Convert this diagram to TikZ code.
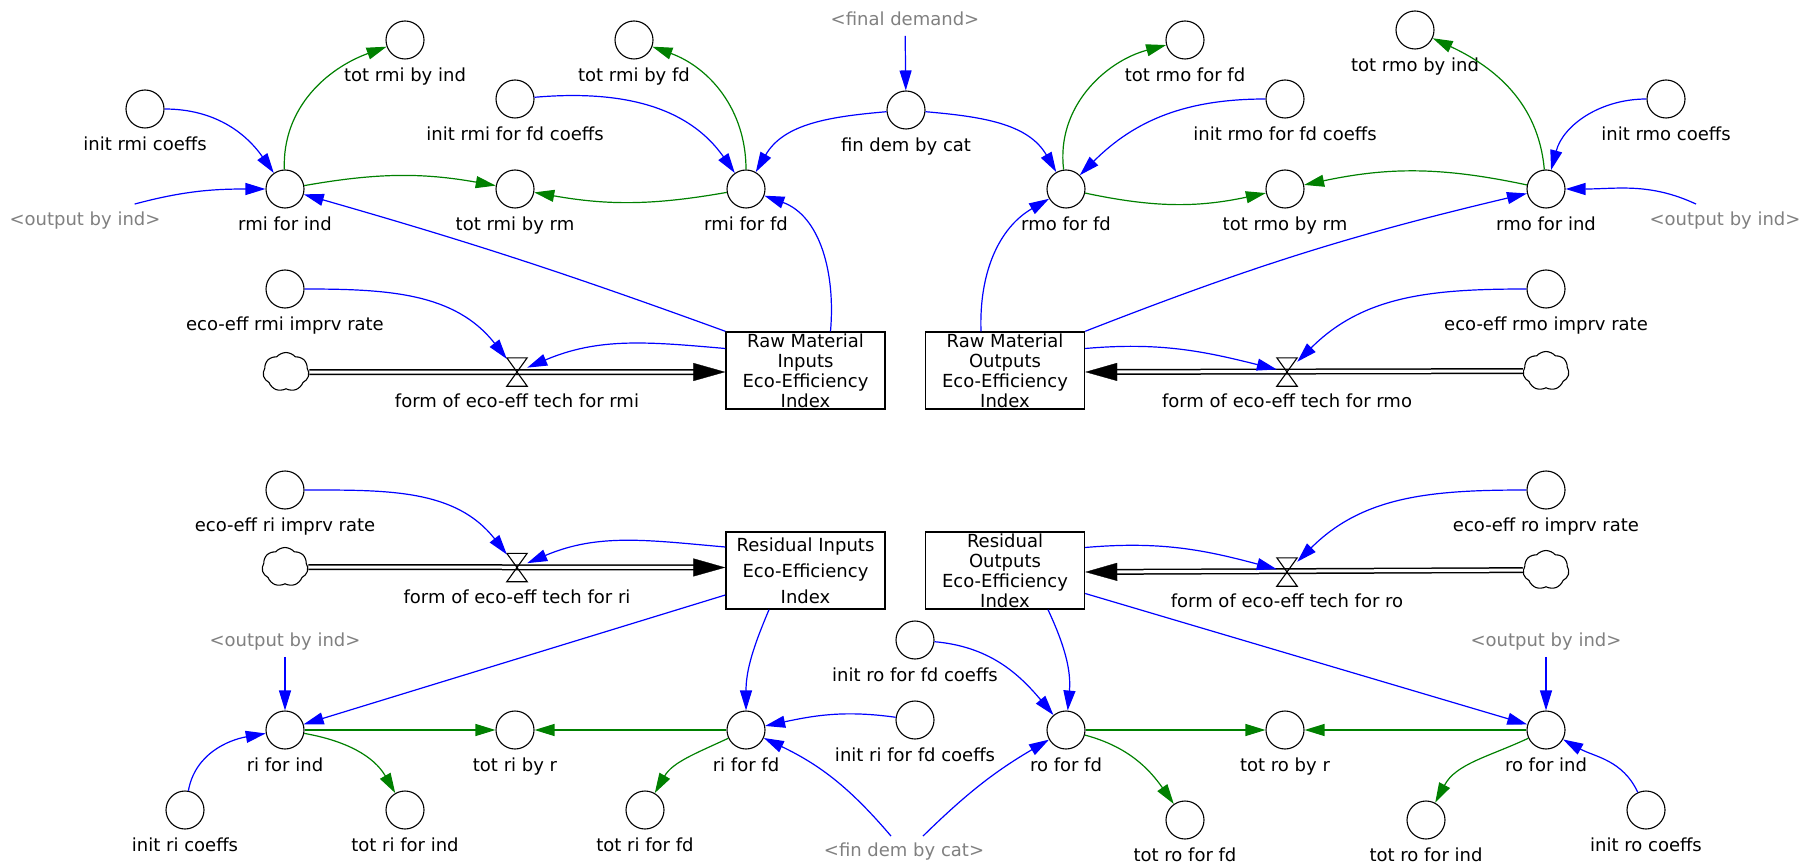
\documentclass[tikz,border=0pt]{standalone}
\usepackage{fontspec}
\usetikzlibrary{arrows.meta,shapes.symbols}
\newfontfamily\dvs{DejaVu Sans}
\newcommand\lblfont{\dvs\fontsize{18pt}{20pt}\selectfont}
\definecolor{infblue}{RGB}{0,0,255}
\definecolor{outgreen}{RGB}{0,128,0}
\definecolor{shadowgray}{RGB}{128,128,128}
% hourglass valve drawn inside a named valve node
\newcommand\hourglass[1]{\draw[line width=1.1pt] (#1.north west) -- (#1.north east) -- (#1.south west) -- (#1.south east) -- cycle;}

\tikzset{
  aux/.style={circle, draw=black, line width=1.1pt, minimum size=38pt, inner sep=0pt},
  lbl/.style={font=\lblfont, text height=13.5pt, text depth=4pt, inner sep=0pt},
  shadow/.style={lbl, text=shadowgray},
  stock/.style={draw=black, line width=1.4pt, minimum width=159pt, minimum height=77pt, inner sep=0pt, align=center, font=\lblfont},
  valve/.style={rectangle, minimum width=20pt, minimum height=28pt, inner sep=0pt},
  cloudy/.style={cloud, cloud puffs=7, cloud puff arc=100, cloud ignores aspect, draw=black, line width=1.1pt, minimum width=46pt, minimum height=39pt, inner sep=0pt},
  infl/.style={draw=infblue, line width=1.2pt, -{Triangle[length=20pt,width=12pt]}},
  outfl/.style={draw=outgreen, line width=1.2pt, -{Triangle[length=20pt,width=12pt]}},
  pipe/.style={draw=black, double=white, line width=1.5pt, double distance=3pt, shorten >=14pt},
  flowtip/.style={draw=white, line width=0.3pt, shorten <=300pt, -{Triangle[length=32pt,width=18pt,black]}},
  every label/.style={lbl},
  label distance=8pt,
}

\begin{document}
\begin{tikzpicture}[x=1pt,y=1pt]
\useasboundingbox (0,0) rectangle (1811,-866);

% ---------- raw material inputs ----------
\node[aux,label=below:{tot rmi by ind}] (totRmiInd) at (405,-40) {};
\node[aux,label=below:{tot rmi by fd}] (totRmiFd) at (634,-40) {};
\node[aux,label=below:{init rmi coeffs}] (initRmi) at (145,-109) {};
\node[aux,label=below:{init rmi for fd coeffs}] (initRmiFd) at (515,-99) {};
\node[aux,label=below:{fin dem by cat}] (finDem) at (906,-110) {};
\node[aux,label=below:{rmi for ind}] (rmiInd) at (285,-189) {};
\node[aux,label=below:{tot rmi by rm}] (totRmiRm) at (515,-189) {};
\node[aux,label=below:{rmi for fd}] (rmiFd) at (746,-189) {};
\node[aux,label=below:{eco-eff rmi imprv rate}] (ecoRmi) at (285,-289) {};
\node[cloudy] (cloudRmi) at (286,-372) {};
\node[valve,label=below:{form of eco-eff tech for rmi}] (valveRmi) at (517,-372) {};
\node[stock] (boxRmi) at (805.5,-370.5) {Raw Material\\Inputs\\Eco-Efficiency\\Index};
\node[shadow] (finalDemand) at (905,-21) {\textless final demand\textgreater};
\node[shadow] (outIndL) at (85,-221) {\textless output by ind\textgreater};

% ---------- raw material outputs ----------
\node[aux,label=below:{tot rmo for fd}] (totRmoFd) at (1185,-40) {};
\node[aux,label=below:{tot rmo by ind}] (totRmoInd) at (1415,-30) {};
\node[aux,label=below:{init rmo for fd coeffs}] (initRmoFd) at (1285,-99) {};
\node[aux,label=below:{init rmo coeffs}] (initRmo) at (1666,-99) {};
\node[aux,label=below:{rmo for fd}] (rmoFd) at (1066,-189) {};
\node[aux,label=below:{tot rmo by rm}] (totRmoRm) at (1285,-189) {};
\node[aux,label=below:{rmo for ind}] (rmoInd) at (1546,-189) {};
\node[aux,label=below:{eco-eff rmo imprv rate}] (ecoRmo) at (1546,-289) {};
\node[cloudy] (cloudRmo) at (1546,-371) {};
\node[valve,label=below:{form of eco-eff tech for rmo}] (valveRmo) at (1287,-372) {};
\node[stock] (boxRmo) at (1005,-370.5) {Raw Material\\Outputs\\Eco-Efficiency\\Index};
\node[shadow] (outIndR) at (1725,-221) {\textless output by ind\textgreater};

% ---------- residual inputs ----------
\node[aux,label=below:{eco-eff ri imprv rate}] (ecoRi) at (285,-490) {};
\node[cloudy] (cloudRi) at (285,-567) {};
\node[valve,label=below:{form of eco-eff tech for ri}] (valveRi) at (517,-567.5) {};
\node[stock,font=\dvs\fontsize{18pt}{26pt}\selectfont] (boxRi) at (805.5,-570.5) {Residual Inputs\\Eco-Efficiency\\Index};
\node[shadow] (outIndBL) at (285,-642) {\textless output by ind\textgreater};
\node[aux,label=below:{ri for ind}] (riInd) at (285,-730) {};
\node[aux,label=below:{tot ri by r}] (totRiR) at (515,-730) {};
\node[aux,label=below:{ri for fd}] (riFd) at (746,-730) {};
\node[aux,label=below:{init ri coeffs}] (initRi) at (185,-810) {};
\node[aux,label=below:{tot ri for ind}] (totRiInd) at (405,-810) {};
\node[aux,label=below:{tot ri for fd}] (totRiFd) at (645,-810) {};
\node[aux,label=below:{init ro for fd coeffs}] (initRoFd) at (915,-640) {};
\node[aux,label=below:{init ri for fd coeffs}] (initRiFd) at (915,-720) {};
\node[shadow] (finDemCat) at (904,-852) {\textless fin dem by cat\textgreater};

% ---------- residual outputs ----------
\node[aux,label=below:{eco-eff ro imprv rate}] (ecoRo) at (1546,-490) {};
\node[cloudy] (cloudRo) at (1546,-570) {};
\node[valve,label=below:{form of eco-eff tech for ro}] (valveRo) at (1287,-572) {};
\node[stock] (boxRo) at (1005,-570.5) {Residual\\Outputs\\Eco-Efficiency\\Index};
\node[shadow] (outIndBR) at (1546,-642) {\textless output by ind\textgreater};
\node[aux,label=below:{ro for fd}] (roFd) at (1066,-730) {};
\node[aux,label=below:{tot ro by r}] (totRoR) at (1285,-730) {};
\node[aux,label=below:{ro for ind}] (roInd) at (1546,-730) {};
\node[aux,label=below:{tot ro for fd}] (totRoFd) at (1185,-820) {};
\node[aux,label=below:{tot ro for ind}] (totRoInd) at (1426,-820) {};
\node[aux,label=below:{init ro coeffs}] (initRo) at (1646,-810) {};

% ---------- flows ----------
\draw[pipe] (cloudRmi) -- (boxRmi.west |- valveRmi);
\draw[flowtip] (cloudRmi) -- (boxRmi.west |- valveRmi);
\draw[pipe] (cloudRmo) -- (boxRmo.east |- valveRmo);
\draw[flowtip] (cloudRmo) -- (boxRmo.east |- valveRmo);
\draw[pipe] (cloudRi) -- (boxRi.west |- valveRi);
\draw[flowtip] (cloudRi) -- (boxRi.west |- valveRi);
\draw[pipe] (cloudRo) -- (boxRo.east |- valveRo);
\draw[flowtip] (cloudRo) -- (boxRo.east |- valveRo);
\hourglass{valveRmi}
\hourglass{valveRmo}
\hourglass{valveRi}
\hourglass{valveRo}

% ---------- links: raw material inputs ----------
\draw[infl] (initRmi) to[out=0,in=125] (rmiInd);
\draw[infl] ([shift={(-26pt,8pt)}]outIndL.north east) to[out=15,in=180] (rmiInd);
\draw[outfl] (rmiInd) to[out=92,in=200] (totRmiInd);
\draw[outfl] (rmiInd) to[out=10,in=170] (totRmiRm);
\draw[outfl] (rmiFd) to[out=190,in=-10] (totRmiRm);
\draw[outfl] (rmiFd) to[out=90,in=-20] (totRmiFd);
\draw[infl] (initRmiFd) to[out=5,in=125] (rmiFd);
\draw[infl] (finDem) to[out=185,in=60] (rmiFd);
\draw[infl] (finDem) to[out=-5,in=120] (rmoFd);
\draw[infl, shorten <=6pt] (finalDemand) -- (finDem);
\draw[infl] (boxRmi.north west) to[bend right=2] (rmiInd);
\draw[infl] ([xshift=25pt]boxRmi.north) to[out=85,in=-20] (rmiFd);
\draw[infl] ([yshift=22pt]boxRmi.west) to[out=175,in=23] (valveRmi);
\draw[infl] (ecoRmi) to[out=0,in=128] (valveRmi);

% ---------- links: raw material outputs ----------
\draw[outfl] (rmoFd) to[out=97,in=195] (totRmoFd);
\draw[infl] (initRmoFd) to[out=180,in=45] (rmoFd);
\draw[outfl] (rmoFd) to[out=-12,in=192] (totRmoRm);
\draw[outfl] (rmoInd) to[out=168,in=12] (totRmoRm);
\draw[outfl] (rmoInd) to[out=95,in=-25] (totRmoInd);
\draw[infl] (initRmo) to[out=180,in=75] (rmoInd);
\draw[infl] ([shift={(-29pt,8pt)}]outIndR.north) to[out=155,in=0] (rmoInd);
\draw[infl] ([xshift=-24pt]boxRmo.north) to[out=92,in=210] (rmoFd);
\draw[infl] (boxRmo.north east) to[bend left=4] (rmoInd);
\draw[infl] ([yshift=22pt]boxRmo.east) to[out=5,in=166] (valveRmo);
\draw[infl] (ecoRmo) to[out=180,in=45] (valveRmo);

% ---------- links: residual inputs ----------
\draw[infl] (ecoRi) to[out=0,in=128] (valveRi);
\draw[infl] ([yshift=23.5pt]boxRi.west) to[out=175,in=23] (valveRi);
\draw[infl] ([yshift=-24.5pt]boxRi.west) -- (riInd);
\draw[infl] ([xshift=-36.5pt]boxRi.south) to[out=-113,in=90] (riFd);
\draw[infl, shorten <=6pt] (outIndBL) -- (riInd);
\draw[infl] (initRi) to[out=80,in=190] (riInd);
\draw[outfl] (riInd) -- (totRiR);
\draw[outfl] (riFd) -- (totRiR);
\draw[outfl] (riInd) to[out=-10,in=120] (totRiInd);
\draw[outfl] (riFd) to[out=205,in=60] (totRiFd);
\draw[infl] (initRiFd) to[out=172,in=12] (riFd);
\draw[infl] ([shift={(-13pt,7pt)}]finDemCat.north) to[bend right=12] (riFd);
\draw[infl] ([shift={(19pt,7pt)}]finDemCat.north) to[bend left=7] (roFd);

% ---------- links: residual outputs ----------
\draw[infl] (ecoRo) to[out=180,in=45] (valveRo);
\draw[infl] ([yshift=23pt]boxRo.east) to[out=5,in=165] (valveRo);
\draw[infl] ([xshift=43pt]boxRo.south) to[out=-65,in=85] (roFd);
\draw[infl] (initRoFd) to[out=-5,in=130] (roFd);
\draw[infl] ([yshift=-23pt]boxRo.east) -- (roInd);
\draw[infl, shorten <=6pt] (outIndBR) -- (roInd);
\draw[outfl] (roFd) -- (totRoR);
\draw[outfl] (roInd) -- (totRoR);
\draw[outfl] (roFd) to[out=-15,in=125] (totRoFd);
\draw[outfl] (roInd) to[out=205,in=62] (totRoInd);
\draw[infl] (initRo) to[out=115,in=-29] (roInd);
\end{tikzpicture}
\end{document}
